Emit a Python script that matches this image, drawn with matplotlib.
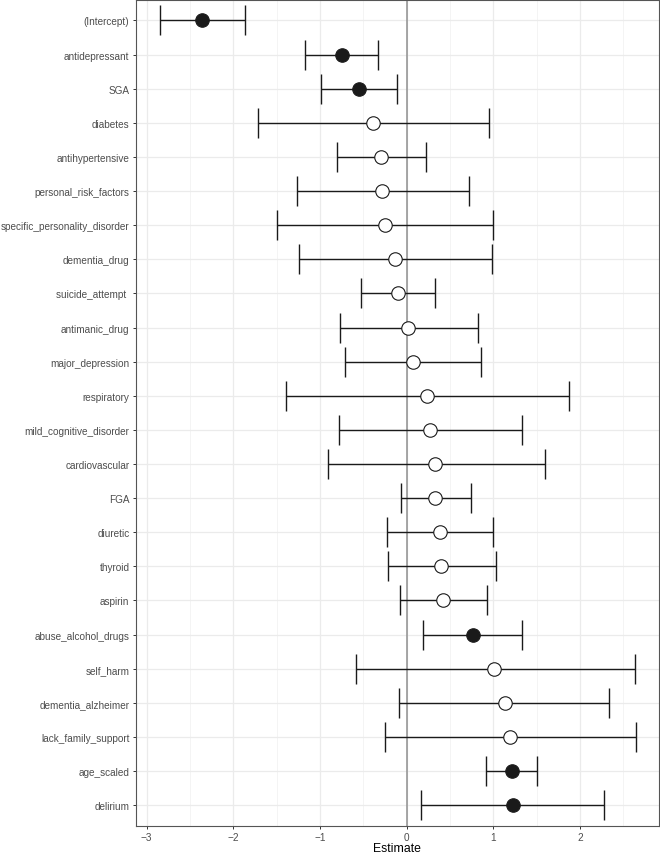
import numpy as np
import matplotlib.pyplot as plt

plt.rcParams['font.family'] = ['Liberation Sans', 'DejaVu Sans']

# termes du modèle, de haut en bas
terms = ['(Intercept)', 'antidepressant', 'SGA', 'diabetes', 'antihypertensive',
         'personal_risk_factors', 'specific_personality_disorder', 'dementia_drug',
         'suicide_attempt ', 'antimanic_drug', 'major_depression', 'respiratory',
         'mild_cognitive_disorder', 'cardiovascular', 'FGA', 'diuretic', 'thyroid',
         'aspirin', 'abuse_alcohol_drugs', 'self_harm', 'dementia_alzheimer',
         'lack_family_support', 'age_scaled', 'delirium']

estimate = [-2.36, -0.75, -0.55, -0.39, -0.30, -0.28, -0.25, -0.14, -0.10, 0.02,
            0.07, 0.24, 0.27, 0.33, 0.33, 0.39, 0.40, 0.42, 0.76, 1.01, 1.13,
            1.19, 1.21, 1.23]
lower = [-2.84, -1.17, -0.99, -1.72, -0.80, -1.27, -1.50, -1.24, -0.53, -0.77,
         -0.71, -1.39, -0.78, -0.91, -0.07, -0.23, -0.22, -0.08, 0.19, -0.58,
         -0.09, -0.25, 0.92, 0.17]
upper = [-1.87, -0.33, -0.11, 0.95, 0.22, 0.72, 1.00, 0.98, 0.33, 0.82,
         0.86, 1.87, 1.33, 1.59, 0.74, 1.00, 1.03, 0.93, 1.33, 2.63,
         2.33, 2.65, 1.50, 2.28]
# IC qui ne contient pas 0 -> point plein
significant = [True, True, True, False, False, False, False, False, False, False,
               False, False, False, False, False, False, False, False, True, False,
               False, False, True, True]

est = np.array(estimate)
lo = np.array(lower)
hi = np.array(upper)
sig = np.array(significant)
y = np.arange(len(terms))

fig = plt.figure(figsize=(6.6, 8.54), dpi=100)
ax = fig.add_axes([0.2056, 0.032, 0.7929, 0.9669])

# grille façon theme_bw
ax.set_xticks(np.arange(-3, 3, 1))
ax.set_xticks(np.arange(-2.5, 3, 1), minor=True)
ax.set_yticks(y)
ax.set_yticklabels(terms)
ax.grid(which='major', color='#ebebeb', lw=0.9)
ax.grid(which='minor', axis='x', color='#f2f2f2', lw=0.6)
ax.set_axisbelow(True)

ax.axvline(0, color='#8f8f8f', lw=1.1, zorder=1)

ax.errorbar(est, y, xerr=[est - lo, hi - est], fmt='none', ecolor='#1a1a1a',
            elinewidth=1.0, capsize=10.8, capthick=1.0, zorder=2)
ax.plot(est[~sig], y[~sig], 'o', ms=9.7, mfc='white', mec='#1a1a1a', mew=0.8, zorder=3)
ax.plot(est[sig], y[sig], 'o', ms=9.7, mfc='#1a1a1a', mec='#1a1a1a', mew=0.8, zorder=3)

ax.set_xlim(-3.125, 2.91)
ax.set_ylim(len(terms) - 0.4, -0.6)

ax.tick_params(which='major', labelsize=7.2, labelcolor='#4d4d4d', length=2.5,
               color='#333333', width=0.7, pad=2)
ax.tick_params(which='minor', length=0)
for s in ax.spines.values():
    s.set_color('#555555')
    s.set_linewidth(0.8)

ax.set_xlabel('Estimate', fontsize=8.8, labelpad=0)

plt.savefig('out.png', dpi=100)
